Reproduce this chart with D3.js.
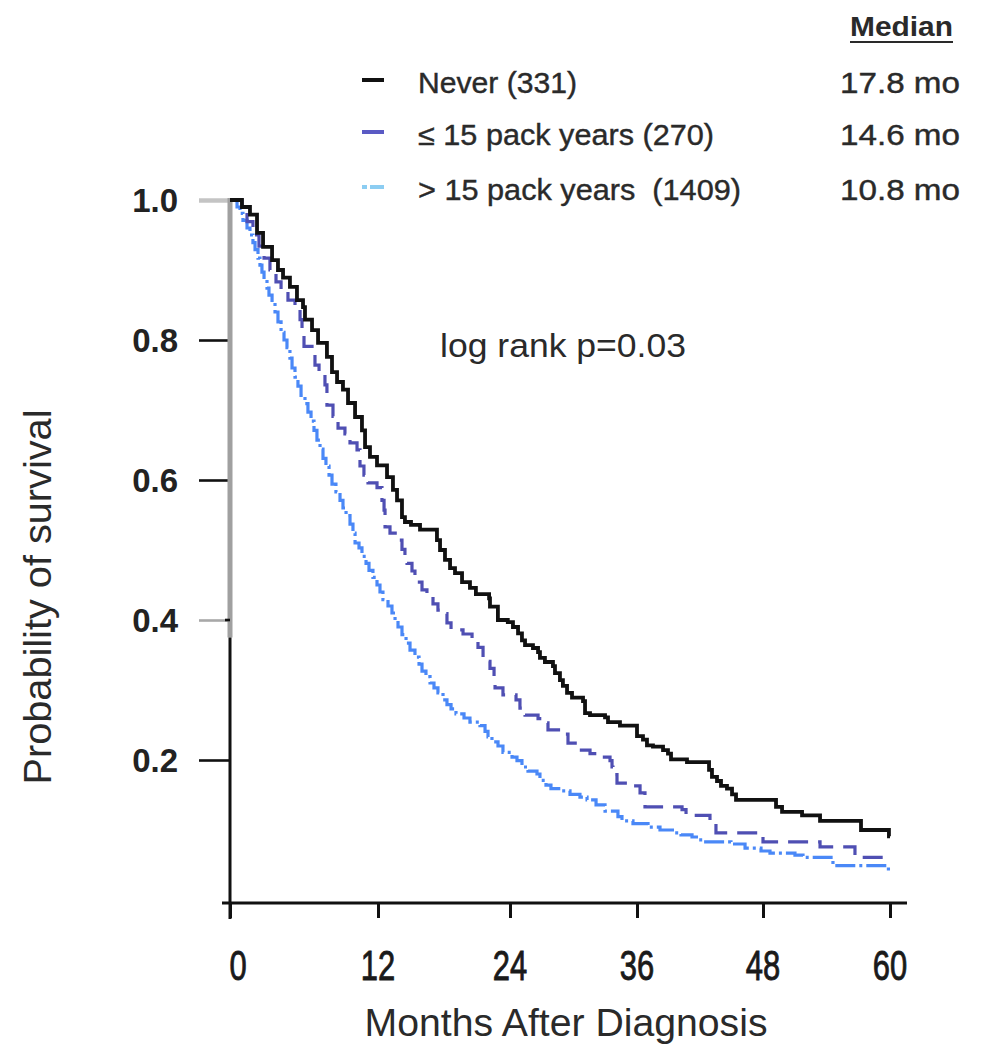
<!DOCTYPE html>
<html><head><meta charset="utf-8">
<script src="https://cdn.jsdelivr.net/npm/d3@7/dist/d3.min.js"></script>
<style>html,body{margin:0;padding:0;background:#fff;} svg{display:block;} text{white-space:pre;}</style>
</head><body>
<svg id="chart" width="987" height="1050"></svg>
<script>
// ---------------- DATA ----------------
const seriesNames = ["Never (331)", "\u2264 15 pack years (270)", "> 15 pack years  (1409)"];
const medianLabels = ["17.8 mo", "14.6 mo", "10.8 mo"];
const xTickValues = [0, 12, 24, 36, 48, 60];
const yTickValues = [0.2, 0.4, 0.6, 0.8, 1.0];
const yTickLabels = ["0.2", "0.4", "0.6", "0.8", "1.0"];
const annotation = "log rank p=0.03";

// Kaplan-Meier steps: [month, survival after that month]
const neverSteps = [[0,1.0],[0.97,0.99],[1.62,0.979],[2.19,0.953],[2.68,0.933],[3.41,0.914],[3.89,0.9],[4.30,0.889],[4.86,0.876],[5.43,0.857],[5.92,0.847],[6.08,0.829],[6.65,0.814],[7.14,0.796],[7.86,0.776],[8.27,0.754],[8.68,0.74],[9.16,0.729],[9.57,0.71],[10.14,0.69],[10.7,0.671],[10.95,0.647],[11.35,0.633],[11.92,0.621],[12.82,0.604],[13.36,0.586],[13.73,0.571],[14.18,0.547],[14.45,0.54],[15.0,0.536],[15.82,0.529],[17.36,0.514],[17.64,0.5],[18.09,0.486],[18.55,0.474],[19.0,0.467],[19.64,0.454],[20.36,0.446],[20.9,0.437],[22.1,0.431],[22.18,0.419],[22.9,0.4],[23.8,0.397],[24.28,0.39],[24.76,0.381],[25.13,0.371],[25.42,0.364],[26.17,0.36],[26.65,0.354],[26.83,0.346],[27.3,0.34],[28.06,0.334],[28.25,0.324],[28.72,0.314],[29.0,0.306],[29.39,0.296],[29.86,0.289],[30.9,0.284],[31.09,0.267],[31.56,0.264],[32.98,0.261],[33.26,0.254],[34.39,0.249],[36.0,0.234],[36.57,0.229],[36.95,0.221],[37.52,0.219],[38.48,0.214],[38.95,0.209],[39.24,0.201],[40.76,0.197],[42.86,0.186],[43.14,0.176],[43.62,0.17],[44.0,0.163],[44.57,0.159],[45.05,0.151],[45.43,0.143],[49.23,0.133],[49.8,0.126],[51.69,0.121],[53.39,0.113],[57.26,0.1],[59.9,0.091],[60,0.091]];

const lowSteps = [[0,1.0],[0.97,0.986],[1.38,0.969],[1.86,0.95],[2.35,0.934],[2.76,0.917],[3.24,0.9],[3.73,0.883],[4.14,0.869],[4.70,0.857],[5.27,0.846],[5.68,0.829],[5.84,0.807],[6.0,0.791],[6.65,0.783],[6.89,0.764],[7.22,0.75],[7.7,0.736],[7.86,0.707],[8.35,0.691],[8.76,0.674],[9.32,0.666],[9.73,0.653],[10.3,0.643],[10.54,0.62],[10.86,0.607],[11.19,0.596],[11.92,0.589],[12.36,0.571],[12.55,0.557],[12.64,0.533],[13.09,0.524],[13.82,0.514],[14.18,0.501],[14.45,0.491],[14.64,0.481],[15.09,0.47],[15.36,0.454],[16.0,0.443],[16.45,0.437],[17.0,0.423],[17.45,0.414],[17.91,0.409],[18.27,0.396],[18.64,0.386],[19.73,0.38],[20.55,0.371],[21.09,0.361],[21.55,0.341],[22.18,0.331],[22.55,0.32],[22.64,0.303],[23.36,0.293],[24.57,0.286],[24.94,0.274],[25.42,0.264],[26.65,0.259],[27.5,0.253],[27.59,0.243],[29.2,0.237],[29.48,0.224],[30.33,0.214],[31.56,0.209],[32.69,0.204],[33.45,0.199],[33.64,0.19],[33.73,0.179],[34.11,0.167],[35.05,0.163],[36.29,0.153],[36.76,0.133],[40.29,0.129],[40.67,0.121],[42.95,0.111],[43.52,0.096],[48.0,0.083],[53.39,0.076],[56.69,0.061],[60,0.061]];

const highSteps = [[0,1.0],[0.57,0.99],[0.81,0.981],[1.05,0.971],[1.38,0.96],[1.62,0.95],[1.86,0.939],[2.03,0.929],[2.27,0.917],[2.43,0.907],[2.59,0.897],[2.76,0.886],[3.0,0.874],[3.16,0.864],[3.41,0.853],[3.65,0.84],[3.89,0.826],[4.14,0.811],[4.38,0.8],[4.62,0.789],[4.86,0.774],[5.03,0.76],[5.27,0.747],[5.51,0.734],[5.76,0.721],[6.08,0.709],[6.32,0.697],[6.57,0.684],[6.81,0.671],[7.05,0.657],[7.3,0.644],[7.54,0.631],[7.78,0.62],[8.03,0.607],[8.27,0.594],[8.59,0.583],[8.92,0.571],[9.16,0.56],[9.41,0.549],[9.73,0.537],[9.97,0.524],[10.14,0.51],[10.46,0.503],[10.7,0.491],[11.03,0.481],[11.27,0.471],[11.59,0.461],[11.92,0.45],[12.18,0.44],[12.45,0.429],[12.91,0.42],[13.27,0.41],[13.55,0.4],[13.82,0.39],[14.18,0.379],[14.55,0.367],[14.91,0.357],[15.36,0.347],[15.73,0.337],[16.0,0.327],[16.36,0.319],[16.73,0.31],[17.09,0.303],[17.45,0.296],[17.91,0.286],[18.27,0.279],[18.64,0.273],[19.09,0.266],[19.82,0.26],[20.36,0.254],[21.27,0.249],[21.73,0.241],[22.0,0.233],[22.36,0.226],[22.91,0.22],[23.36,0.211],[24.19,0.204],[24.66,0.199],[25.13,0.19],[25.7,0.184],[26.55,0.18],[26.83,0.171],[27.4,0.164],[27.87,0.159],[28.91,0.156],[29.67,0.151],[30.61,0.147],[31.28,0.143],[32.13,0.136],[32.98,0.127],[34.2,0.119],[34.58,0.113],[35.62,0.109],[37.05,0.104],[38.19,0.1],[39.62,0.096],[40.19,0.093],[41.24,0.09],[41.81,0.086],[42.29,0.083],[44.95,0.08],[46.29,0.074],[47.81,0.07],[48.66,0.067],[51.02,0.064],[51.78,0.061],[54.43,0.056],[54.61,0.049],[59.85,0.04],[60,0.04]];

// ---------------- LAYOUT ----------------
const svg = d3.select("#chart");
const FONT = "'Liberation Sans', Arial, Helvetica, sans-serif";
const colors = ["#111111", "#4f4fb3", "#4a88f7"];
const legendColors = ["#111111", "#5a5ac4", "#8ccdf2"];
const dashes = [null, "20,10", "20,4,3,4"];

const x = d3.scaleLinear().domain(xTickValues).range([230, 378, 510, 637, 763, 890]);
const y = d3.scaleLinear().domain([0, 1]).range([900, 200]);
const axisY = 903;

// Y axis
const yAxis = d3.axisLeft(y).tickValues(yTickValues).tickSize(31).tickSizeOuter(0).tickFormat("");
const gy = svg.append("g").attr("transform", `translate(${x(0)},0)`).call(yAxis);
gy.select(".domain").remove();
gy.selectAll(".tick line").attr("stroke", "#111").attr("stroke-width", 2.6);
gy.selectAll(".tick").filter(d => d === 1.0).select("line").attr("stroke", "#c4c4c4").attr("stroke-width", 4.5);
gy.selectAll(".tick").filter(d => d === 0.4).select("line").attr("stroke", "#a8a8a8");
svg.append("line").attr("x1", x(0)).attr("x2", x(0)).attr("y1", y(1.0) - 2).attr("y2", y(0.375))
  .attr("stroke", "#a0a0a0").attr("stroke-width", 5);
svg.append("line").attr("x1", x(0)).attr("x2", x(0)).attr("y1", y(0.375)).attr("y2", axisY + 16)
  .attr("stroke", "#111").attr("stroke-width", 3);
svg.append("line").attr("x1", x(0) - 5).attr("x2", x(0)).attr("y1", y(0.4)).attr("y2", y(0.4))
  .attr("stroke", "#111").attr("stroke-width", 2.6);

// Y tick labels
svg.append("g").selectAll("text").data(yTickValues).join("text")
  .attr("x", 178).attr("y", d => y(d) + 12)
  .attr("text-anchor", "end")
  .attr("font-family", FONT).attr("font-weight", "bold").attr("font-size", 33).attr("fill", "#222")
  .text((d, i) => yTickLabels[i]);

// X axis
const xAxis = d3.axisBottom(x).tickValues(xTickValues).tickSize(15).tickSizeOuter(0).tickFormat("");
const gx = svg.append("g").attr("transform", `translate(0,${axisY})`).call(xAxis);
gx.select(".domain").remove();
gx.selectAll(".tick line").attr("stroke", "#111").attr("stroke-width", 3);
svg.append("line").attr("x1", x(0) - 8).attr("x2", x(60) + 17).attr("y1", axisY).attr("y2", axisY)
  .attr("stroke", "#111").attr("stroke-width", 3);

// X tick labels (condensed)
svg.append("g").selectAll("text").data(xTickValues).join("text")
  .attr("transform", d => `translate(${x(d) + (d === 0 ? 8 : 0)},980) scale(0.72,1)`)
  .attr("text-anchor", "middle")
  .attr("font-family", FONT).attr("font-size", 43).attr("fill", "#1a1a1a")
  .attr("stroke", "#1a1a1a").attr("stroke-width", 0.9)
  .text(d => String(d));

// Axis titles
svg.append("text").attr("x", 566).attr("y", 1036).attr("text-anchor", "middle")
  .attr("font-family", FONT).attr("font-size", 38).attr("fill", "#2a2a2a")
  .attr("textLength", 403).attr("lengthAdjust", "spacingAndGlyphs")
  .text("Months After Diagnosis");
svg.append("text").attr("transform", "translate(51,597) rotate(-90)").attr("text-anchor", "middle")
  .attr("font-family", FONT).attr("font-size", 38).attr("fill", "#2a2a2a")
  .attr("textLength", 375).attr("lengthAdjust", "spacingAndGlyphs")
  .text("Probability of survival");

// Annotation
svg.append("text").attr("x", 440).attr("y", 357)
  .attr("font-family", FONT).attr("font-size", 33).attr("fill", "#2a2a2a")
  .attr("textLength", 246).attr("lengthAdjust", "spacingAndGlyphs")
  .text(annotation);

// Curves
const line = d3.line().x(d => x(d[0])).y(d => y(d[1])).curve(d3.curveStepAfter);
const seriesData = [neverSteps, lowSteps, highSteps];
[2, 1, 0].forEach(i => {
  const p = svg.append("path").datum(seriesData[i])
    .attr("d", line).attr("fill", "none")
    .attr("stroke", colors[i]).attr("stroke-width", i === 0 ? 3.8 : 3.2)
    .attr("stroke-linejoin", "miter");
  if (dashes[i]) p.attr("stroke-dasharray", dashes[i]);
});

// Legend
const legendRowsY = [83, 135, 190];
const legendWidths = [159, 296, 323];
svg.append("text").attr("x", 850).attr("y", 36)
  .attr("font-family", FONT).attr("font-weight", "bold").attr("font-size", 27).attr("fill", "#2a2a2a")
  .attr("textLength", 103).attr("lengthAdjust", "spacingAndGlyphs").text("Median");
svg.append("line").attr("x1", 850).attr("x2", 953).attr("y1", 42).attr("y2", 42)
  .attr("stroke", "#2a2a2a").attr("stroke-width", 2);
const lg = svg.append("g");
seriesNames.forEach((name, i) => {
  const cy = legendRowsY[i];
  const sw = lg.append("line").attr("x1", 362).attr("x2", 384).attr("y1", cy - 3).attr("y2", cy - 3)
    .attr("stroke", legendColors[i]).attr("stroke-width", 4);
  if (i === 2) sw.attr("stroke-dasharray", "5,3,14");
  lg.append("text").attr("x", 418).attr("y", cy + 10)
    .attr("font-family", FONT).attr("font-size", 29).attr("fill", "#2a2a2a")
    .attr("stroke", "#2a2a2a").attr("stroke-width", 0.4)
    .attr("textLength", legendWidths[i]).attr("lengthAdjust", "spacingAndGlyphs")
    .text(name);
  lg.append("text").attr("x", 840).attr("y", cy + 10)
    .attr("font-family", FONT).attr("font-size", 29).attr("fill", "#2a2a2a")
    .attr("stroke", "#2a2a2a").attr("stroke-width", 0.4)
    .attr("textLength", 120).attr("lengthAdjust", "spacingAndGlyphs")
    .text(medianLabels[i]);
});
</script>
</body></html>
